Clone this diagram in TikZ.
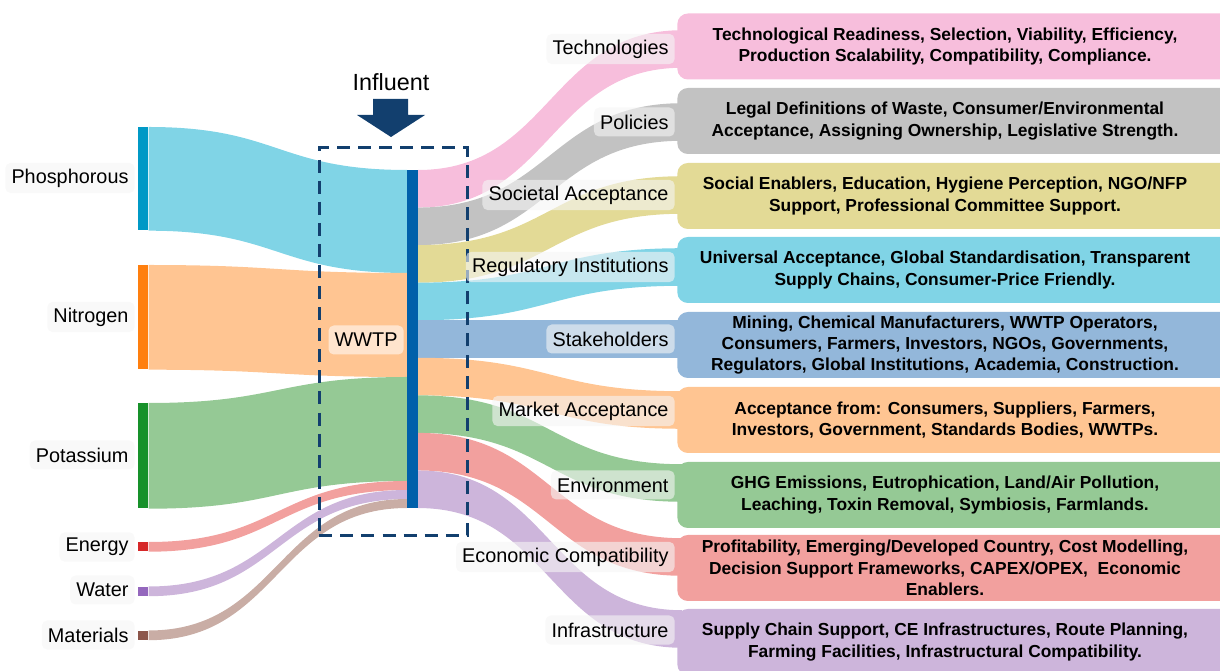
\documentclass[tikz,border=0pt]{standalone}
\usepackage{fontspec}
\setmainfont{Liberation Sans}
\usetikzlibrary{calc}

% Sankey palette
\definecolor{pBar}{HTML}{0099C6}  \definecolor{pFlow}{HTML}{80D4E6}
\definecolor{nBar}{HTML}{FF7F0E}  \definecolor{nFlow}{HTML}{FFC592}
\definecolor{kBar}{HTML}{17912A}  \definecolor{kFlow}{HTML}{95C995}
\definecolor{eBar}{HTML}{D62728}  \definecolor{eFlow}{HTML}{F2A09E}
\definecolor{wBar}{HTML}{9467BD}  \definecolor{wFlow}{HTML}{CDB5DB}
\definecolor{mBar}{HTML}{8C564B}  \definecolor{mFlow}{HTML}{C9ADA5}
\definecolor{hub}{HTML}{0060AA}
\definecolor{navy}{HTML}{123F6E}
\definecolor{techC}{HTML}{F7BEDC}
\definecolor{polC}{HTML}{C2C2C2}
\definecolor{socC}{HTML}{E3DA96}
\definecolor{regC}{HTML}{80D4E6}
\definecolor{stkC}{HTML}{93B7DA}
\definecolor{mktC}{HTML}{FFC592}
\definecolor{envC}{HTML}{95C995}
\definecolor{ecoC}{HTML}{F2A09E}
\definecolor{infC}{HTML}{CDB5DB}

% a Sankey band between two vertical edges: colour, source top, source bottom, target top, target bottom
\newcommand\sankeyband[5]{%
  \coordinate (bandmid) at ($(#2)!0.5!(#4)$);
  \fill[#1] (#2) .. controls (bandmid |- #2) and (bandmid |- #4) .. (#4)
    -- (#5) .. controls (bandmid |- #5) and (bandmid |- #3) .. (#3) -- cycle;
}

\begin{document}
\begin{tikzpicture}[x=0.02cm,y=-0.02cm,
  srcbar/.style={fill=#1,minimum width=10*0.02cm,inner sep=0pt,anchor=north west},
  lefttag/.style={fill=black!4,fill opacity=0.6,text opacity=1,rounded corners=3pt,
    font=\fontsize{11.3}{13}\selectfont,inner xsep=3.5pt,minimum height=29*0.02cm,anchor=east},
  righttag/.style={lefttag},
  infobox/.style={fill=#1,rounded corners=6pt,minimum width=560*0.02cm,minimum height=66*0.02cm,
    anchor=west,inner sep=0pt},
  infotext/.style={font=\bfseries\fontsize{9.9}{12.2}\selectfont,align=center}]
\useasboundingbox (0,0) rectangle (1220,671);

% ---------- source bars ----------
\node[srcbar=pBar,minimum height=103*0.02cm] (P) at (138,127) {};
\node[srcbar=nBar,minimum height=104*0.02cm] (N) at (138,265) {};
\node[srcbar=kBar,minimum height=105*0.02cm] (K) at (138,403) {};
\node[srcbar=eBar,minimum height=9*0.02cm] (E) at (138,542) {};
\node[srcbar=wBar,minimum height=9*0.02cm] (W) at (138,586.5) {};
\node[srcbar=mBar,minimum height=9*0.02cm] (M) at (138,630.5) {};

% ---------- stacking points on the WWTP hub (inflow side) ----------
\coordinate (i0) at (407,170);
\coordinate (i1) at (407,273);
\coordinate (i2) at (407,377);
\coordinate (i3) at (407,481);
\coordinate (i4) at (407,490);
\coordinate (i5) at (407,499);
\coordinate (i6) at (407,508);

% ---------- inflows ----------
\sankeyband{pFlow}{P.north east}{P.south east}{i0}{i1}
\sankeyband{nFlow}{N.north east}{N.south east}{i1}{i2}
\sankeyband{kFlow}{K.north east}{K.south east}{i2}{i3}
\sankeyband{eFlow}{E.north east}{E.south east}{i3}{i4}
\sankeyband{wFlow}{W.north east}{W.south east}{i4}{i5}
\sankeyband{mFlow}{M.north east}{M.south east}{i5}{i6}

% ---------- stacking points on the hub (outflow side) ----------
\foreach \k in {0,...,9} {
  \coordinate (o\k) at ({418},{170+37.56*\k});
}
% target edges of the outflows
\foreach \k/\c in {1/49,2/122,3/195,4/267,5/339,6/410,7/483,8/557,9/629} {
  \coordinate (t\k a) at (682,{\c-18.78});
  \coordinate (t\k b) at (682,{\c+18.78});
}

% ---------- outflows ----------
\sankeyband{techC}{o0}{o1}{t1a}{t1b}
\sankeyband{polC}{o1}{o2}{t2a}{t2b}
\sankeyband{socC}{o2}{o3}{t3a}{t3b}
\sankeyband{regC}{o3}{o4}{t4a}{t4b}
\sankeyband{stkC}{o4}{o5}{t5a}{t5b}
\sankeyband{mktC}{o5}{o6}{t6a}{t6b}
\sankeyband{envC}{o6}{o7}{t7a}{t7b}
\sankeyband{ecoC}{o7}{o8}{t8a}{t8b}
\sankeyband{infC}{o8}{o9}{t9a}{t9b}

% ---------- WWTP hub ----------
\node[fill=hub,minimum width=11*0.02cm,minimum height=338*0.02cm,inner sep=0pt,anchor=north west]
  (hub) at (407,170) {};

% ---------- dashed treatment boundary ----------
\node[draw=navy,line width=1.5pt,dash pattern=on 7.4pt off 4.6pt,
  minimum width=148*0.02cm,minimum height=388*0.02cm,inner sep=0pt,anchor=north west]
  (plant) at (318,146.5) {};

% ---------- influent arrow ----------
\node[font=\fontsize{13.3}{15}\selectfont,inner sep=0pt] (inf) at (391,82) {Influent};
\coordinate (tip) at (391,137);
\fill[navy] (373,99) -- (408,99) -- (408,115) -- (425,115) -- (tip) -- (357,115) -- (373,115) -- cycle;

% ---------- labels ----------
\node[lefttag] (lP) at (135,178) {Phosphorous};
\node[lefttag] (lN) at (135,317) {Nitrogen};
\node[lefttag] (lK) at (135,455) {Potassium};
\node[lefttag] (lE) at (135,547) {Energy};
\node[lefttag] (lW) at (135,590) {Water};
\node[lefttag] (lM) at (135,635) {Materials};
\node[lefttag,fill=white,fill opacity=0.55] (lH) at (404,340) {WWTP};

\node[righttag] (r1) at (675,49) {Technologies};
\node[righttag] (r2) at (675,122) {Policies};
\node[righttag] (r3) at (675,195) {Societal Acceptance};
\node[righttag] (r4) at (675,267) {Regulatory Institutions};
\node[righttag] (r5) at (675,339) {Stakeholders};
\node[righttag] (r6) at (675,411) {Market Acceptance};
\node[righttag] (r7) at (675,485) {Environment};
\node[righttag] (r8) at (675,557) {Economic Compatibility};
\node[righttag] (r9) at (675,630) {Infrastructure};

% ---------- detail boxes ----------
\node[infobox=techC] (b1) at (677,46.5) {};
\node[infobox=polC]  (b2) at (677,121) {};
\node[infobox=socC]  (b3) at (677,196) {};
\node[infobox=regC]  (b4) at (677,270) {};
\node[infobox=stkC]  (b5) at (677,345) {};
\node[infobox=mktC]  (b6) at (677,420) {};
\node[infobox=envC]  (b7) at (677,495) {};
\node[infobox=ecoC]  (b8) at (677,568) {};
\node[infobox=infC]  (b9) at (677,642) {};

\node[infotext] at (945,46.5) {Technological Readiness, Selection, Viability, Efficiency,\\Production Scalability, Compatibility, Compliance.};
\node[infotext] at (945,121) {Legal Definitions of Waste, Consumer/Environmental\\Acceptance, Assigning Ownership, Legislative Strength.};
\node[infotext] at (945,196) {Social Enablers, Education, Hygiene Perception, NGO/NFP\\Support, Professional Committee Support.};
\node[infotext] at (945,270) {Universal Acceptance, Global Standardisation, Transparent\\Supply Chains, Consumer-Price Friendly.};
\node[infotext] at (945,345) {Mining, Chemical Manufacturers, WWTP Operators,\\Consumers, Farmers, Investors, NGOs, Governments,\\Regulators, Global Institutions, Academia, Construction.};
\node[infotext] at (945,420) {Acceptance from: Consumers, Suppliers, Farmers,\\Investors, Government, Standards Bodies, WWTPs.};
\node[infotext] at (945,495) {GHG Emissions, Eutrophication, Land/Air Pollution,\\Leaching, Toxin Removal, Symbiosis, Farmlands.};
\node[infotext] at (945,568) {Profitability, Emerging/Developed Country, Cost Modelling,\\Decision Support Frameworks, CAPEX/OPEX, \ Economic\\Enablers.};
\node[infotext] at (945,642) {Supply Chain Support, CE Infrastructures, Route Planning,\\Farming Facilities, Infrastructural Compatibility.};
\end{tikzpicture}
\end{document}
